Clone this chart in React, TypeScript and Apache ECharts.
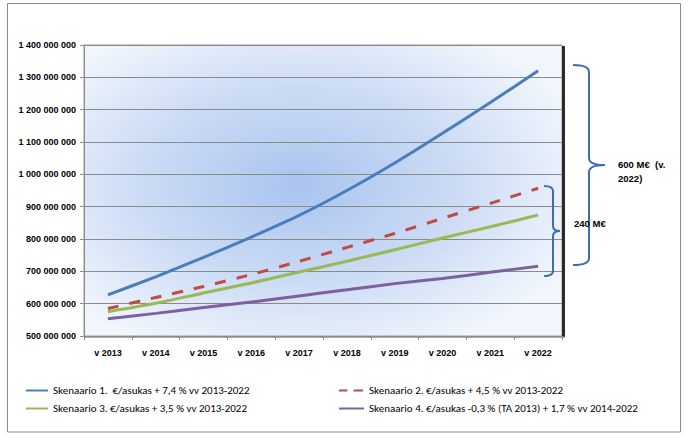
import React, { useEffect, useRef } from "react";
import * as echarts from "echarts";

const categories = ["v 2013", "v 2014", "v 2015", "v 2016", "v 2017", "v 2018", "v 2019", "v 2020", "v 2021", "v 2022"];
const seriesNames = [
  "Skenaario 1.  €/asukas + 7,4 % vv 2013-2022",
  "Skenaario 2. €/asukas + 4,5 % vv 2013-2022",
  "Skenaario 3. €/asukas + 3,5 % vv 2013-2022",
  "Skenaario 4. €/asukas -0,3 % (TA 2013) + 1,7 % vv 2014-2022",
];
const scenario1 = [627, 683, 743, 806, 873, 950, 1035, 1127, 1222, 1320].map((v) => v * 1e6);
const scenario2 = [585, 619, 653, 690, 731, 774, 817, 864, 910, 957].map((v) => v * 1e6);
const scenario3 = [575, 601, 633, 664, 698, 731, 767, 803, 838, 874].map((v) => v * 1e6);
const scenario4 = [553, 570, 588, 605, 624, 643, 662, 678, 697, 716].map((v) => v * 1e6);
const yMin = 500e6;
const yMax = 1400e6;
const yInterval = 100e6;
const annotationBig = ["600 M€  (v.", "2022)"];
const annotationSmall = "240 M€";

const colors = ["#4A7EBB", "#BE4B48", "#98B954", "#7D60A0"];

function bracePath(x0: number, xv: number, xt: number, top: number, bottom: number, r: number) {
  const mid = (top + bottom) / 2;
  return (
    `M${x0} ${top} Q${xv} ${top} ${xv} ${top + r} L${xv} ${mid - r} Q${xv} ${mid} ${xt} ${mid} ` +
    `Q${xv} ${mid} ${xv} ${mid + r} L${xv} ${bottom - r} Q${xv} ${bottom} ${x0} ${bottom}`
  );
}

let registered = false;
function registerShapes() {
  if (registered) return;
  registered = true;
  echarts.graphic.registerShape("braceBig", echarts.graphic.extendPath(bracePath(573, 589, 605, 65, 265, 7), {}));
  echarts.graphic.registerShape("braceSmall", echarts.graphic.extendPath(bracePath(544, 553, 560, 186, 276, 5), {}));
}

const fmt = (v: number) => String(Math.round(v)).replace(/\B(?=(\d{3})+(?!\d))/g, " ");

const solidIcon = "path://M0 0 H24 V2 H0 Z";
const dashedIcon = "path://M0 0 H8 V2 H0 Z M14 0 H23 V2 H14 Z M24 0 H24 V2 H24 Z";

export default function App() {
  const ref = useRef<HTMLDivElement>(null);
  useEffect(() => {
    if (!ref.current) return;
    registerShapes();
    const chart = echarts.init(ref.current, null, { renderer: "svg" });
    const axisFont = { fontFamily: "'Liberation Sans', Arial, sans-serif", fontWeight: "bold" as const, fontSize: 9, color: "#000" };
    const legendText = { fontFamily: "Carlito, 'Liberation Sans Narrow', 'DejaVu Sans Condensed', 'Liberation Sans', sans-serif", fontSize: 11, color: "#000" };
    const dataSets = [scenario1, scenario2, scenario3, scenario4];
    const legendBase = {
      top: 385,
      orient: "vertical",
      padding: 0,
      itemHeight: 2,
      itemGap: 7,
      symbolKeepAspect: false,
      textStyle: legendText,
      selectedMode: false,
    };
    chart.setOption({
      animation: false,
      backgroundColor: "#fff",
      grid: {
        left: 84,
        right: 127,
        top: 45,
        bottom: 104,
        show: true,
        borderColor: "#9a9a9a",
        borderWidth: 1,
        backgroundColor: {
          type: "radial",
          x: 0.45,
          y: 0.48,
          r: 0.62,
          colorStops: [
            { offset: 0, color: "#a9c4ef" },
            { offset: 0.55, color: "#cddcf5" },
            { offset: 1, color: "#f1f6fd" },
          ],
        },
      },
      legend: [
        {
          ...legendBase,
          left: 26,
          itemWidth: 22,
          data: [
            { name: seriesNames[0], icon: solidIcon },
            { name: seriesNames[2], icon: solidIcon },
          ],
        },
        {
          ...legendBase,
          left: 339,
          itemWidth: 25,
          data: [
            { name: seriesNames[1], icon: dashedIcon },
            { name: seriesNames[3], icon: solidIcon },
          ],
        },
      ],
      xAxis: {
        type: "category",
        data: categories,
        boundaryGap: true,
        axisLine: { lineStyle: { color: "#8c8c8c", width: 1 } },
        axisTick: { show: true, length: 4, lineStyle: { color: "#8c8c8c" } },
        axisLabel: { ...axisFont, margin: 12 },
      },
      yAxis: {
        type: "value",
        min: yMin,
        max: yMax,
        interval: yInterval,
        axisLine: { show: true, lineStyle: { color: "#8c8c8c", width: 1 } },
        axisTick: { show: true, length: 4, lineStyle: { color: "#8c8c8c" } },
        splitLine: { lineStyle: { color: "#8a8a8a", width: 1 } },
        axisLabel: { ...axisFont, margin: 8, formatter: fmt },
      },
      series: dataSets.map((d, i) => ({
        name: seriesNames[i],
        type: "line",
        data: d,
        symbol: "none",
        smooth: 0.2,
        color: colors[i],
        lineStyle: {
          color: colors[i],
          width: 3,
          type: i === 1 ? [11, 11] : "solid",
        },
        z: 10 - i,
      })),
      graphic: [
        {
          type: "rect",
          shape: { x: 7.5, y: 3.5, width: 673, height: 428.5 },
          style: { stroke: "#8a8a8a", fill: "none", lineWidth: 1 },
          z: -10,
          silent: true,
        },
        {
          type: "rect",
          shape: { x: 562, y: 46, width: 3, height: 292 },
          style: { fill: "#2b2b2b" },
          silent: true,
        },
        {
          type: "rect",
          shape: { x: 85, y: 336.5, width: 480, height: 1.5 },
          style: { fill: "#a8a8a8" },
          silent: true,
        },
        {
          type: "braceBig",
          style: { stroke: "#3E6DB0", lineWidth: 2, fill: "none" },
          z: 100,
          silent: true,
        },
        {
          type: "braceSmall",
          style: { stroke: "#3E6DB0", lineWidth: 2, fill: "none" },
          z: 100,
          silent: true,
        },
        {
          type: "text",
          x: 618,
          y: 157,
          style: {
            text: annotationBig.join("\n"),
            fontFamily: "'Liberation Sans', Arial, sans-serif",
            fontWeight: "bold",
            fontSize: 9.5,
            lineHeight: 14,
            fill: "#000",
          },
          z: 100,
        },
        {
          type: "text",
          x: 574,
          y: 218,
          style: {
            text: annotationSmall,
            fontFamily: "'Liberation Sans', Arial, sans-serif",
            fontWeight: "bold",
            fontSize: 9.5,
            fill: "#000",
          },
          z: 100,
        },
      ],
    });
    return () => chart.dispose();
  }, []);
  return <div ref={ref} style={{ position: "absolute", left: 0, top: 0, width: 689, height: 440 }} />;
}
